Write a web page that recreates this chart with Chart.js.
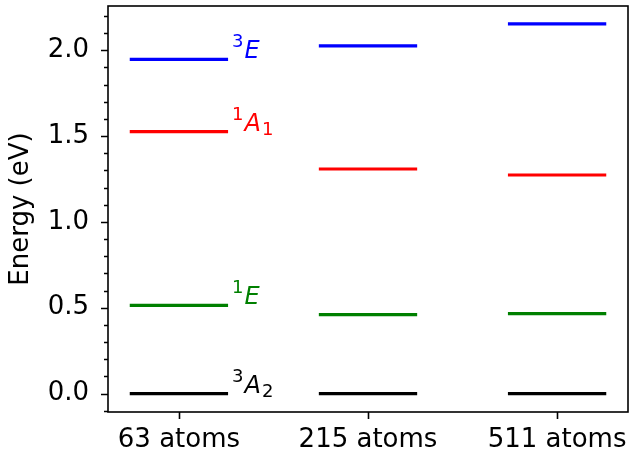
<!DOCTYPE html>
<html>
<head>
<meta charset="utf-8">
<script src="https://cdn.jsdelivr.net/npm/chart.js@4/dist/chart.umd.min.js"></script>
<style>
  html, body { margin: 0; padding: 0; background: #fff; }
  #wrap { width: 631px; height: 455px; position: relative; }
</style>
</head>
<body>
<div id="wrap"><canvas id="c"></canvas></div>
<script>
/* ── Data ─────────────────────────────────────────────── */
const CATEGORIES = ['63 atoms', '215 atoms', '511 atoms'];

// energies in eV per supercell size
const E_3A2 = [0.0, 0.0, 0.0];
const E_1E  = [0.514, 0.460, 0.465];
const E_1A1 = [1.526, 1.308, 1.273];
const E_3E  = [1.947, 2.025, 2.153];

const STATE_SUP   = ['3', '1', '1', '3'];
const STATE_MAIN  = ['A', 'E', 'A', 'E'];
const STATE_SUB   = ['2', '', '1', ''];
const STATE_COLOR = ['#000000', '#008000', '#ff0000', '#0000ff'];
const STATE_VALUES = [E_3A2, E_1E, E_1A1, E_3E];

const Y_MAJOR = [0.0, 0.5, 1.0, 1.5, 2.0];
const Y_MINOR = [-0.1, 0.1, 0.2, 0.3, 0.4, 0.6, 0.7, 0.8, 0.9, 1.1, 1.2, 1.3, 1.4, 1.6, 1.7, 1.8, 1.9, 2.1, 2.2];

/* ── Style ────────────────────────────────────────────── */
const FONT = '"DejaVu Sans", sans-serif';
const HALF = 0.26;      // half length of a level line, in category units
const AXIS_W = 1.6;

// each state -> one dataset, broken between categories with null
function levelPoints(vals) {
  const pts = [];
  vals.forEach((v, i) => {
    pts.push({ x: i - HALF, y: v });
    pts.push({ x: i + HALF, y: v });
    pts.push({ x: i + 0.5, y: null });
  });
  return pts;
}

const datasets = STATE_VALUES.map((vals, k) => ({
  data: levelPoints(vals),
  borderColor: STATE_COLOR[k],
  borderWidth: 3.2,
  borderCapStyle: 'butt',
  pointRadius: 0,
  spanGaps: false,
  tension: 0,
}));

function noEdgePad(s) {
  s.paddingTop = 0; s.paddingBottom = 0;
  s.paddingLeft = 0; s.paddingRight = 0;
}

/* ── Frame, tick marks and state labels ──────────────── */
const decor = {
  id: 'decor',
  afterDatasetsDraw(chart) {
    const ctx = chart.ctx;
    const { left, right, top, bottom } = chart.chartArea;
    const ys = chart.scales.y, xs = chart.scales.x;

    // state labels next to the first category
    const x0 = xs.getPixelForValue(HALF) + 4;
    STATE_VALUES.forEach((vals, k) => {
      const base = ys.getPixelForValue(vals[0]) - 1;
      ctx.save();
      ctx.fillStyle = STATE_COLOR[k];
      ctx.textBaseline = 'alphabetic';
      ctx.textAlign = 'left';
      let x = x0;
      ctx.font = '18px ' + FONT;
      ctx.fillText(STATE_SUP[k], x, base - 11);
      x += ctx.measureText(STATE_SUP[k]).width + 1;
      ctx.font = 'italic 24px ' + FONT;
      ctx.fillText(STATE_MAIN[k], x, base);
      x += ctx.measureText(STATE_MAIN[k]).width + 1;
      if (STATE_SUB[k]) {
        ctx.font = '18px ' + FONT;
        ctx.fillText(STATE_SUB[k], x, base + 4);
      }
      ctx.restore();
    });

    ctx.save();
    ctx.strokeStyle = '#000';
    ctx.lineWidth = AXIS_W;
    ctx.strokeRect(left, top, right - left, bottom - top);

    ctx.beginPath();
    Y_MAJOR.forEach(v => {
      const y = Math.round(ys.getPixelForValue(v)) + 0.5;
      ctx.moveTo(left, y); ctx.lineTo(left - 7, y);
    });
    Y_MINOR.forEach(v => {
      const y = Math.round(ys.getPixelForValue(v)) + 0.5;
      ctx.moveTo(left, y); ctx.lineTo(left - 4, y);
    });
    CATEGORIES.forEach((c, i) => {
      const x = Math.round(xs.getPixelForValue(i)) + 0.5;
      ctx.moveTo(x, bottom); ctx.lineTo(x, bottom + 7);
    });
    ctx.stroke();
    ctx.restore();
  }
};

new Chart(document.getElementById('c'), {
  type: 'line',
  data: { datasets },
  options: {
    responsive: true,
    maintainAspectRatio: false,
    animation: false,
    events: [],
    layout: { padding: { top: 6, right: 3, left: 0, bottom: 0 } },
    plugins: { legend: { display: false }, tooltip: { enabled: false } },
    scales: {
      x: {
        type: 'linear',
        min: -0.375,
        max: 2.375,
        afterBuildTicks: s => { s.ticks = CATEGORIES.map((c, i) => ({ value: i })); },
        afterFit: s => { s.height = 43; noEdgePad(s); },
        grid: { display: false, drawTicks: false },
        border: { display: false },
        ticks: {
          color: '#000',
          font: { family: FONT, size: 26 },
          padding: 13,
          maxRotation: 0,
          autoSkip: false,
          callback: v => CATEGORIES[v],
        },
      },
      y: {
        type: 'linear',
        min: -0.1075,
        max: 2.2575,
        afterBuildTicks: s => { s.ticks = Y_MAJOR.map(v => ({ value: v })); },
        afterFit: s => { s.width = 108; noEdgePad(s); },
        grid: { display: false, drawTicks: false },
        border: { display: false },
        ticks: {
          color: '#000',
          font: { family: FONT, size: 26 },
          padding: 19,
          callback: v => v.toFixed(1),
        },
        title: {
          display: true,
          text: 'Energy (eV)',
          color: '#000',
          font: { family: FONT, size: 26 },
          padding: { top: 6, bottom: 0 },
        },
      },
    },
  },
  plugins: [decor],
});
</script>
</body>
</html>
